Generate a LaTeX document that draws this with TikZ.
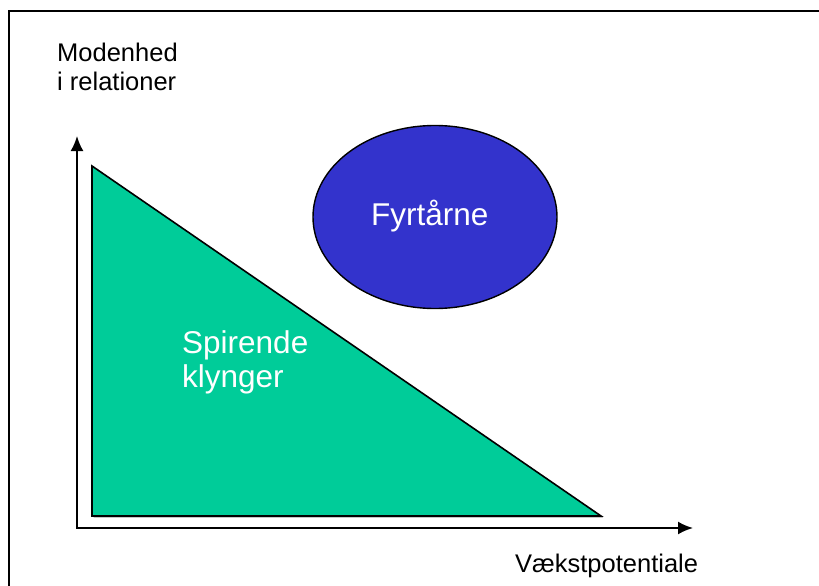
\documentclass[tikz,border=0pt]{standalone}
\usepackage{fontspec}
\setmainfont{Liberation Sans}
\usepackage{tikz}
\usetikzlibrary{arrows.meta,%
                shapes.geometric}

\definecolor{spiregreen}{HTML}{00CC99}
\definecolor{fyrblue}{HTML}{3333CC}

\tikzset{
    axislabel/.style={anchor=base west, inner sep=0pt, font=\fontsize{25.5}{28.5}\selectfont, align=left},
    innerlabel/.style={anchor=base west, inner sep=0pt, text=white, font=\fontsize{31.5}{34}\selectfont, align=left},
    axisline/.style={line width=2pt, -{Latex[length=15pt,width=13pt]}}
}

\begin{document}
\begin{tikzpicture}[x=1pt,y=-1pt]
    \useasboundingbox (0,0) rectangle (819,586);

    % Frame
    \draw[line width=2.2pt] (9,586) -- (9,11) -- (819,11);

    % Spirende Sector
    \fill[gray!70] (93.5,167.5) -- (93.5,517.5) -- (603,517.5) -- cycle;
    \draw[line width=1.6pt, fill=spiregreen] (92,166) -- (92,516) -- (601,516) -- cycle;

    % Fyrtaarne
    \node[ellipse, draw, line width=1.4pt, fill=fyrblue, minimum width=244pt, minimum height=183pt, inner sep=0pt] (fyr) at (435,217) {};
    \node[innerlabel] (fyrtxt) at (371,225) {Fyrtårne};
    \node[innerlabel] (spire) at (182,387) {Spirende\\klynger}; % base = last line

    % Axis
    \coordinate (origin) at (77,528);
    \coordinate (ytop) at (77,136);
    \coordinate (xend) at (693,528);
    \draw[axisline] (origin) -- (ytop);
    \draw[axisline] ([xshift=-1pt]origin) -- (xend);

    \node[axislabel] (ylab) at (57,90.5) {Modenhed\\i relationer};
    \node[axislabel] (xlab) at (515,572) {Vækstpotentiale};

\end{tikzpicture}
\end{document}
